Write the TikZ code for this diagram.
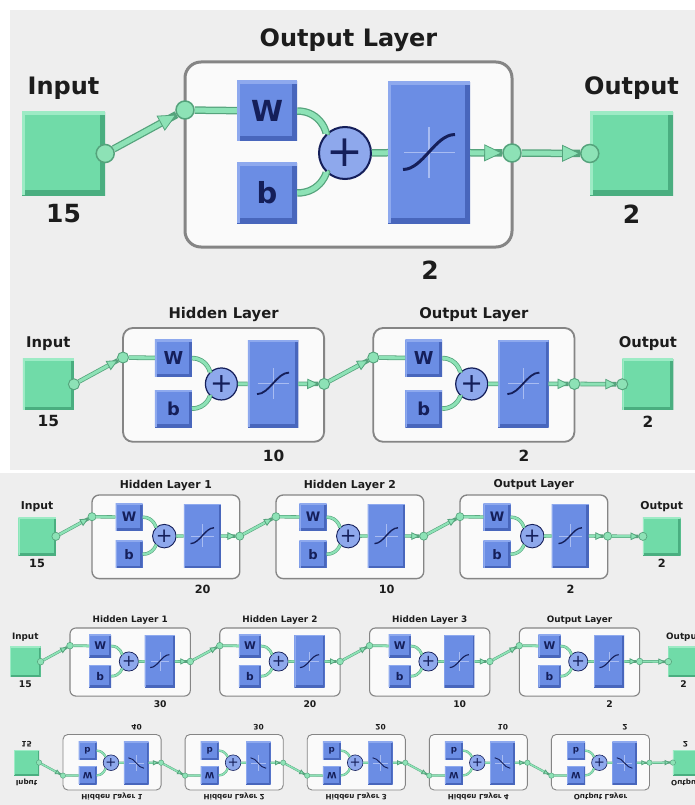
\documentclass[tikz,border=0pt]{standalone}
\usepackage{fontspec}
\setmainfont{DejaVu Sans}
\usetikzlibrary{arrows.meta}

\definecolor{bggray}{HTML}{EEEEEE}
\definecolor{sqgreen}{HTML}{70DBA8}
\definecolor{sqgreendark}{HTML}{4AAE80}
\definecolor{sqgreenlight}{HTML}{9DEBC5}
\definecolor{wiregreen}{HTML}{8DE2B6}
\definecolor{wiredark}{HTML}{55A37C}
\definecolor{boxblue}{HTML}{6B8DE4}
\definecolor{boxbluedark}{HTML}{4866BC}
\definecolor{boxbluelight}{HTML}{8EA9EE}
\definecolor{sumblue}{HTML}{8EA8EC}
\definecolor{navy}{HTML}{151F5A}
\definecolor{crossblue}{HTML}{A8BCF2}
\definecolor{layerfill}{HTML}{FAFAFA}
\definecolor{layerline}{HTML}{858585}
\definecolor{labeltext}{HTML}{1C1C1C}

\tikzset{
  bevel/.style 2 args={path picture={
      \tikzset{name prefix=}
      \draw[#1, line width=\sc*10pt] (path picture bounding box.south west) -- (path picture bounding box.south east) -- (path picture bounding box.north east);
      \draw[#2, line width=\sc*6pt] (path picture bounding box.south west) -- (path picture bounding box.north west) -- (path picture bounding box.north east);
  }},
  iosq/.style={rectangle, inner sep=0pt, minimum size=83pt, fill=sqgreen, bevel={sqgreendark}{sqgreenlight}},
  wbox/.style={rectangle, inner sep=0pt, minimum size=60pt, fill=boxblue, bevel={boxbluedark}{boxbluelight},
    text=navy, font=\fontsize{29}{29}\selectfont\bfseries},
  fbox/.style={rectangle, inner sep=0pt, minimum width=82pt, minimum height=141pt, fill=boxblue, bevel={boxbluedark}{boxbluelight}},
  sumnode/.style={circle, inner sep=0pt, minimum size=52pt, fill=sumblue, draw=navy, line width=\sc*2pt,
    text=navy, font=\fontsize{44}{44}\selectfont},
  joint/.style={circle, inner sep=0pt, minimum size=18pt, fill=wiregreen, draw=wiredark, line width=\sc*1.5pt},
  layerbox/.style={rectangle, rounded corners=\sc*16pt, minimum width=327pt, minimum height=185pt,
    fill=layerfill, draw=layerline, line width=\sc*3pt},
  ttl/.style={font=\fontsize{24}{24}\selectfont\bfseries, text=labeltext},
  lbl/.style={font=\fontsize{24}{24}\selectfont\bfseries, text=labeltext},
  num/.style={font=\fontsize{25}{25}\selectfont\bfseries, text=labeltext},
  wire/.style={draw=wiregreen, line width=\sc*5pt, preaction={draw=wiredark, line width=\sc*7.5pt, -}},
  arr/.style={-{Triangle[length=18pt, width=17pt, scale=\sc, fill=wiregreen, color=wiredark, line width=0.8pt]}},
  sigm/.style={draw=navy, line width=\sc*3pt},
  crosshair/.style={draw=crossblue, line width=\sc*1.5pt},
  pics/iobox/.style n args={3}{code={
      \node[iosq] (-sq) at (0,0) {};
      \node[joint] (-dot) at (-sq.#3) {};
      \node[lbl] (-label) at (0,-65.5) {#1};
      \node[num] (-size) at (0,60.5) {#2};
  }},
  pics/nnlayer/.style 2 args={code={
      \node[layerbox] (-box) at (163.5,92.5) {};
      \node[ttl] (-title) at (163.5,-22) {#1};
      \node[num] (-size) at (245,208) {#2};
      \node[joint] (-in) at (0,48) {};
      \node[wbox] (-w) at (82,49) {W};
      \node[wbox] (-b) at (82,131) {b};
      \node[sumnode] (-sum) at (160,91) {+};
      \node[fbox] (-f) at (244,90.5) {};
      \node[joint] (-out) at (327,91) {};
      \draw[crosshair] (219,90.5) -- (270,90.5) (244,65) -- (244,116);
      \draw[sigm] (218,107.5) .. controls (238,107.5) and (250,72.5) .. (270,72.5);
      \draw[wire] (-in) -- (-w);
      \draw[wire] (-w) to[out=0, in=135] (-sum);
      \draw[wire] (-b) to[out=0, in=225] (-sum);
      \draw[wire] (-sum) -- (-f);
      \draw[wire, arr] (-f) -- (-out);
  }}
}

\begin{document}
\begin{tikzpicture}[x=1pt, y=-1pt]
  \useasboundingbox (0,0) rectangle (695,805);
  \fill[white] (0,0) rectangle (695,805);
  \fill[bggray] (10,10) rectangle (695,470);
  \fill[bggray] (0,472.5) rectangle (695,805);
  \clip (0,0) rectangle (695,805);

  % one layer
  \def\sc{1}
  \begin{scope}[shift={(185,62)}, scale=\sc, transform shape]
    \pic (r1in) at (-121.5,91.5) {iobox={Input}{15}{east}};
    \pic (r1L1) at (0,0) {nnlayer={Output Layer}{2}};
    \pic (r1out) at (446.5,91.5) {iobox={Output}{2}{west}};
    \draw[wire, arr] (r1in-dot) -- (r1L1-in);
    \draw[wire, arr] (r1L1-out) -- (r1out-dot);
  \end{scope}

  % two layers
  \def\sc{0.615}
  \begin{scope}[shift={(123,328)}, scale=\sc, transform shape]
    \pic (r2in) at (-121.5,91.5) {iobox={Input}{15}{east}};
    \foreach \lname/\lsize [count=\i] in {Hidden Layer/10, Output Layer/2}
      \pic (r2L\i) at ({(\i-1)*407},0) {nnlayer={\lname}{\lsize}};
    \pic (r2out) at (853.5,91.5) {iobox={Output}{2}{west}};
    \draw[wire, arr] (r2in-dot) -- (r2L1-in);
    \draw[wire, arr] (r2L1-out) -- (r2L2-in);
    \draw[wire, arr] (r2L2-out) -- (r2out-dot);
  \end{scope}

  % three layers
  \def\sc{0.452}
  \begin{scope}[shift={(92,495)}, scale=\sc, transform shape]
    \pic (r3in) at (-121.5,91.5) {iobox={Input}{15}{east}};
    \foreach \lname/\lsize [count=\i] in {Hidden Layer 1/20, Hidden Layer 2/10, Output Layer/2}
      \pic (r3L\i) at ({(\i-1)*407},0) {nnlayer={\lname}{\lsize}};
    \pic (r3out) at (1260.5,91.5) {iobox={Output}{2}{west}};
    \draw[wire, arr] (r3in-dot) -- (r3L1-in);
    \foreach \i/\j in {1/2, 2/3}
      \draw[wire, arr] (r3L\i-out) -- (r3L\j-in);
    \draw[wire, arr] (r3L3-out) -- (r3out-dot);
  \end{scope}

  % four layers
  \def\sc{0.368}
  \begin{scope}[shift={(70,628)}, scale=\sc, transform shape]
    \pic (r4in) at (-121.5,91.5) {iobox={Input}{15}{east}};
    \foreach \lname/\lsize [count=\i] in {Hidden Layer 1/30, Hidden Layer 2/20, Hidden Layer 3/10, Output Layer/2}
      \pic (r4L\i) at ({(\i-1)*407},0) {nnlayer={\lname}{\lsize}};
    \pic (r4out) at (1667.5,91.5) {iobox={Output}{2}{west}};
    \draw[wire, arr] (r4in-dot) -- (r4L1-in);
    \foreach \i/\j in {1/2, 2/3, 3/4}
      \draw[wire, arr] (r4L\i-out) -- (r4L\j-in);
    \draw[wire, arr] (r4L4-out) -- (r4out-dot);
  \end{scope}

  % five layers, mirrored upside down
  \def\sc{0.3}
  \begin{scope}[shift={(63,790)}, scale=\sc, yscale=-1, transform shape]
    \pic (r5in) at (-121.5,91.5) {iobox={Input}{15}{east}};
    \foreach \lname/\lsize [count=\i] in {Hidden Layer 1/40, Hidden Layer 2/30, Hidden Layer 3/20, Hidden Layer 4/10, Output Layer/2}
      \pic (r5L\i) at ({(\i-1)*407},0) {nnlayer={\lname}{\lsize}};
    \pic (r5out) at (2074.5,91.5) {iobox={Output}{2}{west}};
    \draw[wire, arr] (r5in-dot) -- (r5L1-in);
    \foreach \i/\j in {1/2, 2/3, 3/4, 4/5}
      \draw[wire, arr] (r5L\i-out) -- (r5L\j-in);
    \draw[wire, arr] (r5L5-out) -- (r5out-dot);
  \end{scope}
\end{tikzpicture}
\end{document}
